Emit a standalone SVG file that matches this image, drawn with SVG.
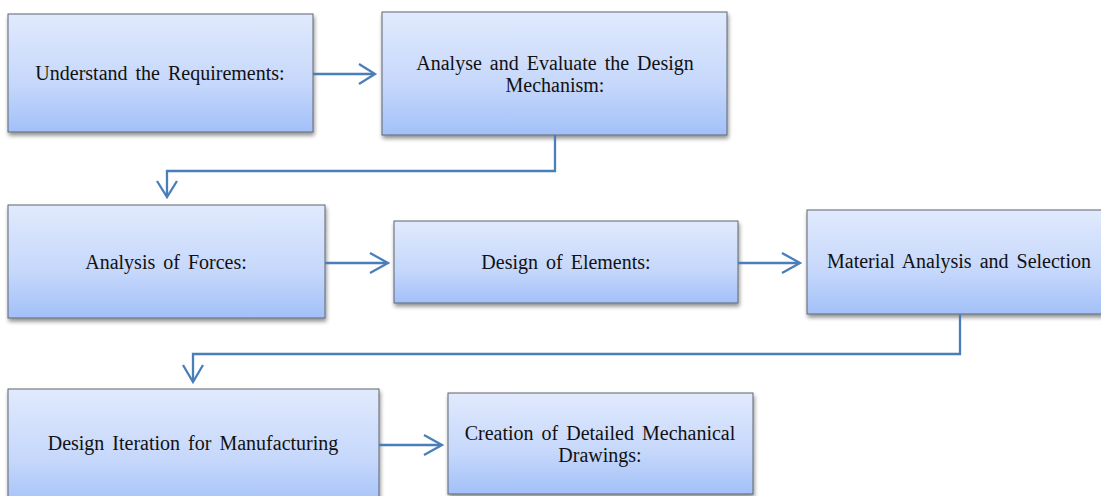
<svg xmlns="http://www.w3.org/2000/svg" width="1101" height="496" viewBox="0 0 1101 496">
<defs>
<linearGradient id="g" x1="0" y1="0" x2="0" y2="1">
<stop offset="0" stop-color="#e1eafd"/>
<stop offset="0.6" stop-color="#c5d7fb"/>
<stop offset="1" stop-color="#a2c0f8"/>
</linearGradient>
<filter id="sh" x="-5%" y="-5%" width="115%" height="125%">
<feGaussianBlur in="SourceAlpha" stdDeviation="2"/>
<feOffset dx="1" dy="3" result="b"/>
<feComponentTransfer><feFuncA type="linear" slope="0.45"/></feComponentTransfer>
<feMerge><feMergeNode/><feMergeNode in="SourceGraphic"/></feMerge>
</filter>
</defs>
<style>
.box{fill:url(#g);stroke:#5f6670;stroke-width:1;filter:url(#sh)}
.t{font-family:"Liberation Serif","Times New Roman",serif;font-size:20px;fill:#111;text-anchor:middle;word-spacing:3px}
.c{fill:none;stroke:#4a7ebb;stroke-width:2.3}
</style>
<rect width="1101" height="496" fill="#ffffff"/>
<g id="n1"><rect class="box" x="8" y="14" width="305" height="118"/><text class="t" x="160" y="80">Understand the Requirements:</text></g>
<g id="n2"><rect class="box" x="382" y="12" width="345" height="123"/><text class="t" x="555" y="70">Analyse and Evaluate the Design</text><text class="t" x="555" y="92">Mechanism:</text></g>
<g id="n3"><rect class="box" x="8" y="205" width="317" height="113"/><text class="t" x="166" y="269">Analysis of Forces:</text></g>
<g id="n4"><rect class="box" x="394" y="221" width="344" height="82"/><text class="t" x="566" y="269">Design of Elements:</text></g>
<g id="n5"><rect class="box" x="807" y="210" width="305" height="104"/><text class="t" x="959" y="268">Material Analysis and Selection</text></g>
<g id="n6"><rect class="box" x="8" y="389" width="371" height="120"/><text class="t" x="193" y="450">Design Iteration for Manufacturing</text></g>
<g id="n7"><rect class="box" x="448" y="393" width="305" height="101"/><text class="t" x="600" y="440">Creation of Detailed Mechanical</text><text class="t" x="600" y="462">Drawings:</text></g>
<g id="connectors">
<path class="c" d="M313,74 H374"/>
<path class="c" d="M359,64 L375,74 L359,84"/>
<path class="c" d="M555,135 V171 H167 V196"/>
<path class="c" d="M157,181 L167,197 L177,181"/>
<path class="c" d="M325,263 H387"/>
<path class="c" d="M370,253 L388,263 L370,273"/>
<path class="c" d="M738,263 H799"/>
<path class="c" d="M782,253 L800,263 L782,273"/>
<path class="c" d="M960,314 V354 H193 V381"/>
<path class="c" d="M183,365 L193,382 L203,365"/>
<path class="c" d="M379,445 H441"/>
<path class="c" d="M424,435 L442,445 L424,455"/>
</g>
</svg>
